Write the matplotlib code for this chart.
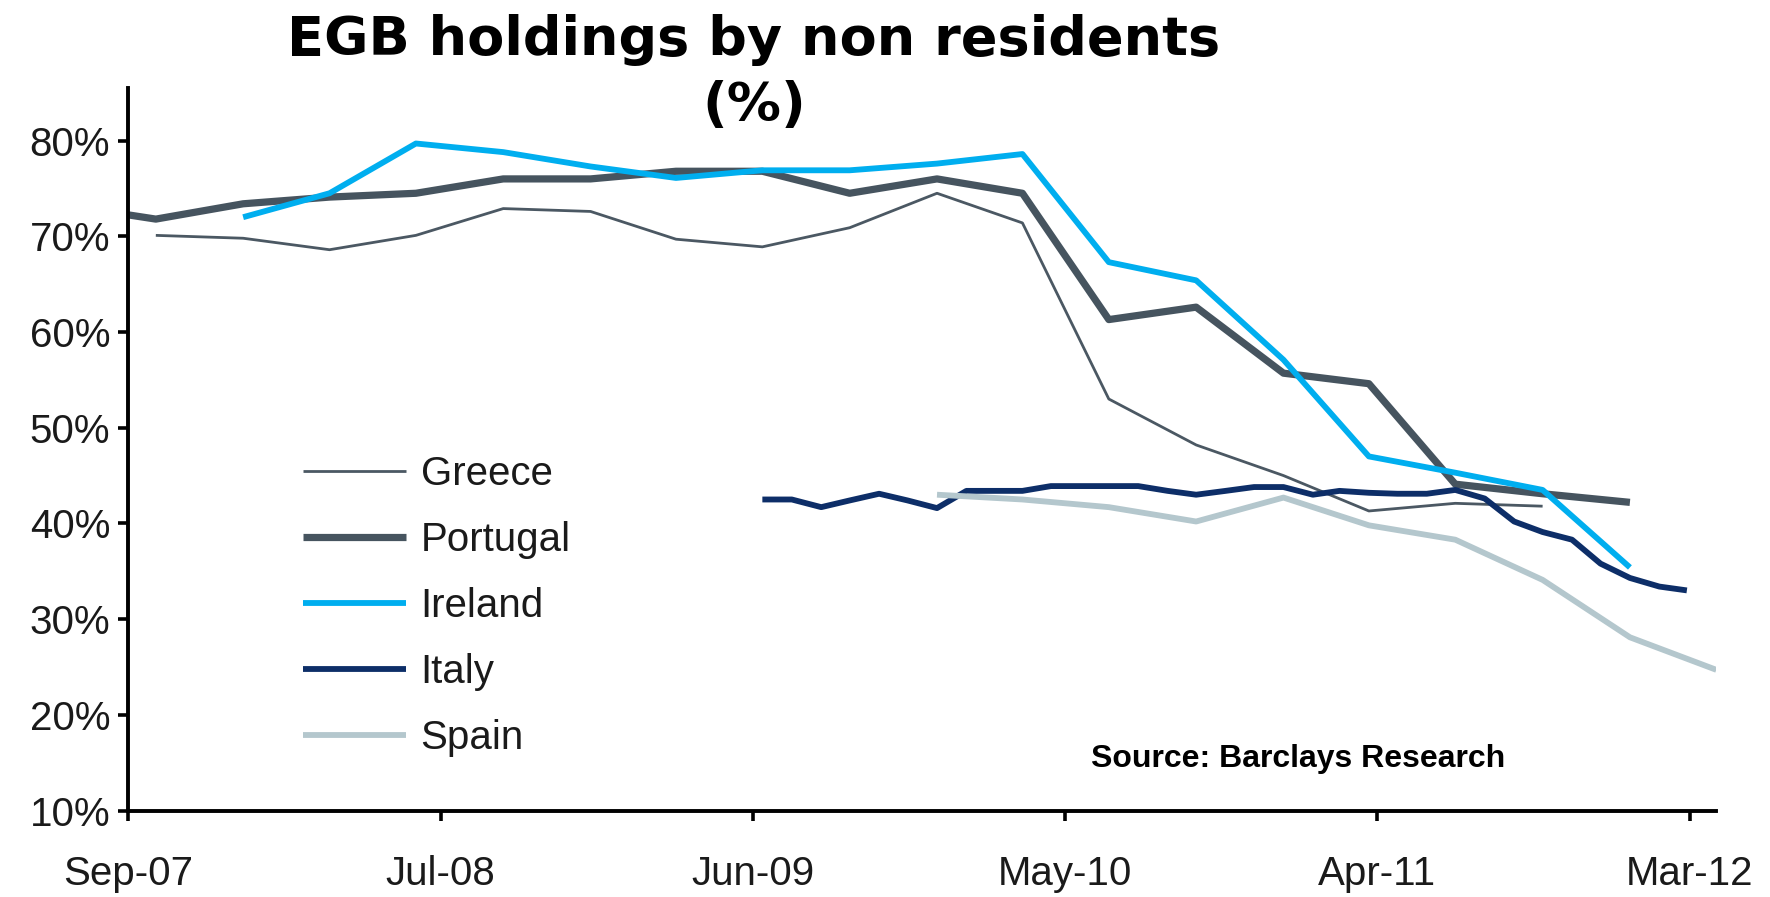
import matplotlib
matplotlib.use("Agg")
import matplotlib.pyplot as plt
import pandas as pd

# ---------------- data (percent of EGBs held by non residents) ----------------
greece_months = pd.date_range("2007-09", "2011-09", freq="QS-MAR").strftime("%Y-%m").tolist()
greece_vals = [70.1, 69.8, 68.6, 70.1, 72.9, 72.6, 69.7, 68.9, 70.9, 74.5,
               71.4, 53.0, 48.2, 45.0, 41.3, 42.1, 41.8]

portugal_months = pd.date_range("2007-06", "2011-12", freq="QS-MAR").strftime("%Y-%m").tolist()
portugal_vals = [73.2, 71.8, 73.4, 74.1, 74.5, 76.0, 76.0, 76.8, 76.8, 74.5,
                 76.0, 74.5, 61.3, 62.6, 55.7, 54.6, 44.1, 43.1, 42.2]

ireland_months = pd.date_range("2007-12", "2011-12", freq="QS-MAR").strftime("%Y-%m").tolist()
ireland_vals = [72.0, 74.5, 79.7, 78.8, 77.3, 76.1, 76.9, 76.9, 77.6, 78.6,
                67.3, 65.4, 57.1, 47.0, 45.3, 43.5, 35.4]

italy_months = pd.date_range("2009-06", "2012-02", freq="MS").strftime("%Y-%m").tolist()
italy_vals = [42.5, 42.5, 41.7, 42.4, 43.1, 42.4, 41.6, 43.4, 43.4, 43.4,
              43.9, 43.9, 43.9, 43.9, 43.4, 43.0, 43.4, 43.8, 43.8, 43.0,
              43.4, 43.2, 43.1, 43.1, 43.5, 42.6, 40.2, 39.1, 38.3, 35.8,
              34.3, 33.4, 33.0]

spain_months = pd.date_range("2009-12", "2012-03", freq="QS-MAR").strftime("%Y-%m").tolist()
spain_vals = [43.0, 42.5, 41.7, 40.2, 42.7, 39.8, 38.3, 34.1, 28.1, 24.7]

x_tick_labels = ["Sep-07", "Jul-08", "Jun-09", "May-10", "Apr-11", "Mar-12"]
y_ticks = [10, 20, 30, 40, 50, 60, 70, 80]

series = [
    ("Greece", greece_months, greece_vals, "#4b5863", 2.0),
    ("Portugal", portugal_months, portugal_vals, "#46545f", 5.2),
    ("Ireland", ireland_months, ireland_vals, "#00aeef", 4.2),
    ("Italy", italy_months, italy_vals, "#0d2e68", 4.2),
    ("Spain", spain_months, spain_vals, "#b4c7cd", 4.2),
]


def month_end(months):
    return pd.to_datetime(months) + pd.offsets.MonthEnd(0)


# ---------------- figure ----------------
W, H = 1770, 897
fig = plt.figure(figsize=(W / 100, H / 100), dpi=100)
ax = fig.add_axes([128.3 / W, 1 - 810.5 / H, (1716.3 - 128.3) / W, (810.5 - 88) / H])

for name, months, vals, color, lw in series:
    ax.plot(month_end(months), vals, color=color, lw=lw, label=name,
            solid_capstyle="butt", solid_joinstyle="round")

start = pd.Timestamp("2007-09-01")
ax.set_xlim(start, pd.Timestamp("2012-03-31"))
ax.set_ylim(10, 85.5)

tick_pos = [start + pd.Timedelta(days=329 * k) for k in range(len(x_tick_labels))]
ax.set_xticks(tick_pos)
ax.set_xticklabels(x_tick_labels)
ax.set_yticks(y_ticks)
ax.set_yticklabels([f"{v}%" for v in y_ticks])

for lab in ax.get_xticklabels() + ax.get_yticklabels():
    lab.set_fontfamily("Liberation Sans")
    lab.set_fontsize(29)
    lab.set_color("#1a1a1a")

for s in ["top", "right"]:
    ax.spines[s].set_visible(False)
for s in ["left", "bottom"]:
    ax.spines[s].set_linewidth(2.8)
    ax.spines[s].set_color("black")
ax.tick_params(axis="both", direction="out", length=7, width=2.6, color="black")
ax.tick_params(axis="x", pad=25)
ax.tick_params(axis="y", pad=6)

leg = ax.legend(loc="center left", bbox_to_anchor=(302.5 / W, 1 - 606 / H),
                bbox_transform=fig.transFigure, frameon=False,
                handlelength=2.58, handletextpad=0.35, labelspacing=0.70,
                borderpad=0, borderaxespad=0,
                prop=dict(family="Liberation Sans", size=29))
for t in leg.get_texts():
    t.set_color("#1a1a1a")

fig.text(754 / W, 1 - 40 / H, "EGB holdings by non residents", ha="center", va="center",
         fontsize=39, fontweight="bold", family="DejaVu Sans")
fig.text(754 / W, 1 - 105.5 / H, "(%)", ha="center", va="center",
         fontsize=39, fontweight="bold", family="DejaVu Sans")

fig.text(1298 / W, 1 - 758.5 / H, "Source: Barclays Research", ha="center", va="center",
         fontsize=23, fontweight="bold", family="Liberation Sans")

fig.savefig("out.png", dpi=100)
